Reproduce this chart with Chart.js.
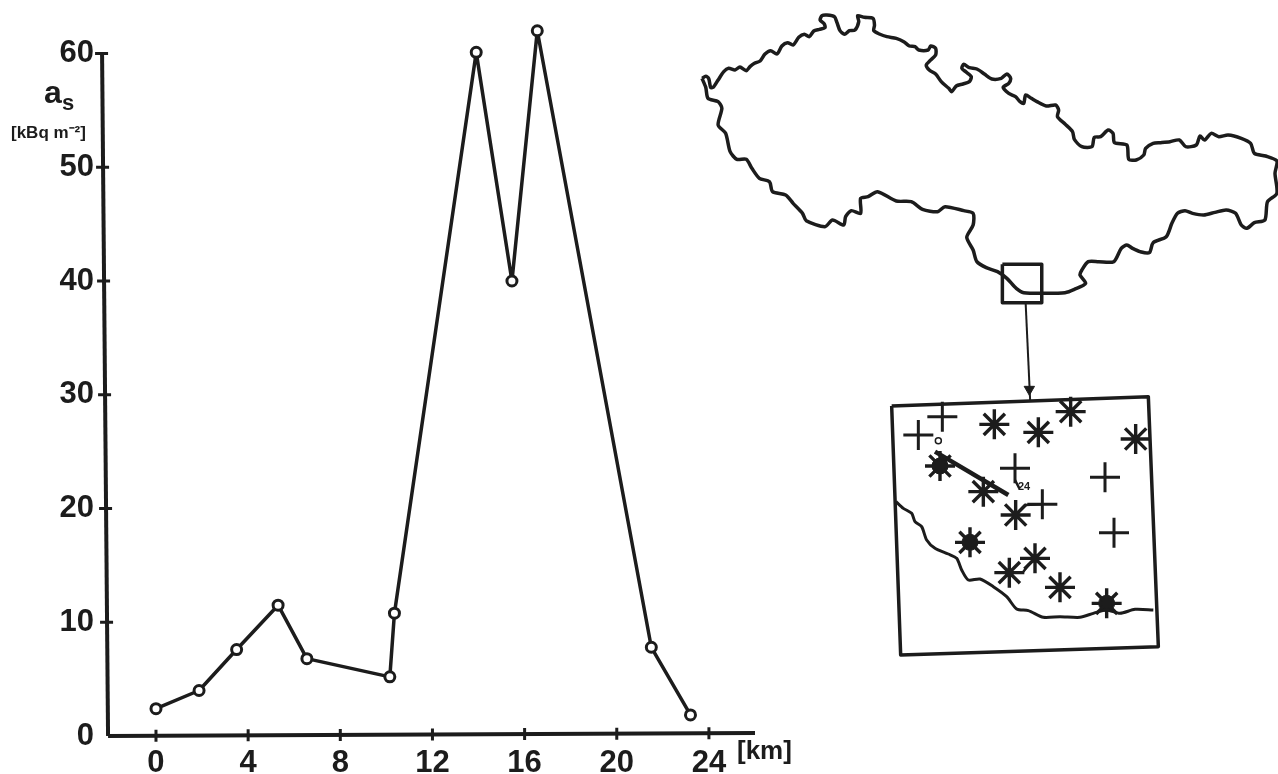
<!DOCTYPE html>
<html>
<head>
<meta charset="utf-8">
<title>Profile</title>
<script src="https://cdn.jsdelivr.net/npm/chart.js@4/dist/chart.umd.min.js"></script>
<style>
    html, body { margin: 0; padding: 0; background: #fff; overflow: hidden; }
    canvas { position: absolute; top: 0; }
    #profile { left: 0; }
    #mapa { left: 690px; }
</style>
</head>
<body>
<canvas id="profile" width="800" height="774"></canvas>
<canvas id="mapa" width="588" height="670"></canvas>
<script>
// profile: km along the line / activity
var distKm = [0, 1.87, 3.5, 5.3, 6.55, 10.15, 10.35, 13.9, 15.45, 16.55, 21.5, 23.2];
var actividad = [2.4, 4.0, 7.6, 11.5, 6.8, 5.2, 10.8, 60.1, 40, 62, 7.8, 1.85];
var xTicks = [0, 4, 8, 12, 16, 20, 24];
var yTicks = [0, 10, 20, 30, 40, 50, 60];
// hand drawn axes lean a little
var ejeY = [{ x: -2.34, y: 60 }, { x: -2.08, y: 0 }];
var ejeX = [{ x: -2.08, y: 0 }, { x: 26, y: 0.26 }];

// country outline, map units
var fronteraX = [32, 42, 50, 55, 62, 75, 90, 103, 120, 133, 150, 160, 172, 187, 200, 215, 232, 245, 260, 275, 290, 305, 318, 330, 345, 360, 358, 347, 352, 365, 385, 392, 400, 412, 425, 440, 450, 447, 465, 488, 492, 490, 505, 525, 550, 570, 585, 600, 610, 635, 642, 655, 655, 640, 630, 638, 655, 670, 690, 698, 710, 728, 745, 750, 735, 725, 730, 745, 765, 785, 805, 830, 845, 855, 850, 835, 850, 868, 880, 890, 895, 910, 925, 950, 975, 983, 980, 1000, 1020, 1025, 1045, 1072, 1078, 1095, 1115, 1128, 1132, 1165, 1170, 1190, 1210, 1215, 1235, 1255, 1280, 1305, 1322, 1350, 1360, 1372, 1390, 1410, 1435, 1470, 1495, 1505, 1535, 1565, 1560, 1565, 1540, 1533, 1505, 1485, 1470, 1455, 1430, 1400, 1370, 1340, 1320, 1300, 1285, 1270, 1235, 1225, 1200, 1180, 1165, 1150, 1130, 1090, 1062, 1045, 1040, 1055, 1025, 1000, 950, 890, 870, 845, 820, 790, 765, 755, 738, 755, 755, 730, 680, 660, 620, 590, 550, 500, 475, 455, 455, 430, 415, 410, 380, 360, 310, 300, 275, 255, 220, 212, 185, 165, 150, 125, 107, 95, 75, 85, 75, 48, 42, 32];
var fronteraY = [235, 229, 236, 262, 262, 240, 215, 205, 210, 201, 212, 200, 190, 183, 162, 152, 162, 138, 128, 135, 112, 103, 110, 93, 88, 83, 72, 60, 47, 45, 50, 68, 92, 103, 92, 90, 65, 47, 52, 55, 75, 92, 102, 110, 115, 125, 138, 140, 150, 150, 138, 145, 165, 182, 195, 210, 222, 245, 265, 275, 258, 252, 245, 230, 215, 205, 193, 203, 207, 222, 237, 235, 222, 235, 250, 262, 280, 290, 305, 310, 285, 295, 305, 318, 315, 330, 350, 372, 395, 418, 440, 440, 412, 410, 390, 400, 428, 435, 478, 480, 465, 445, 430, 428, 425, 420, 440, 435, 408, 420, 400, 410, 405, 415, 430, 460, 468, 483, 520, 580, 605, 660, 668, 685, 675, 640, 630, 637, 645, 640, 632, 640, 670, 710, 728, 758, 755, 745, 735, 745, 785, 785, 785, 810, 825, 850, 868, 878, 880, 878, 865, 835, 815, 803, 785, 750, 712, 675, 640, 632, 620, 635, 628, 605, 603, 575, 590, 595, 640, 632, 650, 675, 660, 680, 662, 640, 610, 585, 575, 545, 535, 505, 478, 478, 455, 400, 375, 325, 305, 295, 262, 235];
var cuadroX = [833, 938, 938, 833, 833];
var cuadroY = [793, 793, 908, 908, 793];
var flechaX = [895, 907];
var flechaY = [908, 1200];

// inset, its own units
var marcoX = [35, 805, 835, 62, 35];
var marcoY = [78, 50, 800, 825, 78];
var curvaX = [48, 70, 95, 105, 125, 140, 165, 205, 230, 245, 265, 300, 340, 380, 410, 445, 490, 540, 600, 640, 680, 720, 765, 820];
var curvaY = [365, 385, 400, 425, 440, 480, 505, 522, 535, 570, 600, 597, 620, 650, 687, 692, 712, 710, 712, 700, 690, 700, 688, 690];
var estrellasX = [343, 475, 572, 767, 180, 310, 407, 270, 465, 388, 540, 680];
var estrellasY = [133, 157, 95, 177, 258, 335, 405, 487, 535, 578, 622, 670];
var rellenoX = [180, 270, 680];
var rellenoY = [258, 487, 670];
var crucesX = [115, 187, 405, 675, 487, 702];
var crucesY = [165, 110, 265, 292, 373, 458];
var perfilX = [165, 385];
var perfilY = [215, 345];
var inicioX = [175];
var inicioY = [182];
// little pen strokes joining some symbols, null = gap
var enlacesX = [405, 418, null, 487, 435, 415, null, 430, 447];
var enlacesY = [300, 325, null, 373, 375, 395, null, 575, 553];

function puntos(xs, ys) {
    return xs.map(function (v, i) { return { x: v, y: ys[i] }; });
}

var negro = '#1c1c1c';
var fuente = 'Liberation Sans';

// ticks crossing the leaning axes + the loose texts
var marcas = {
    id: 'marcas',
    afterDraw: function (chart) {
        var c = chart.ctx, sx = chart.scales.x, sy = chart.scales.y;
        c.save();
        c.strokeStyle = negro;
        c.lineWidth = 3;
        c.beginPath();
        sx.ticks.forEach(function (t) {
            var px = sx.getPixelForValue(t.value);
            var py = sy.getPixelForValue(0.26 * (t.value + 2.08) / 28.08);
            c.moveTo(px, py - 6);
            c.lineTo(px, py + 6);
        });
        sy.ticks.forEach(function (t) {
            if (t.value === 0) return;
            var py = sy.getPixelForValue(t.value);
            var px = sx.getPixelForValue(-2.08 - 0.26 * t.value / 60);
            c.moveTo(px - 7, py);
            c.lineTo(px + 6, py);
        });
        c.stroke();

        c.fillStyle = negro;
        c.textBaseline = 'alphabetic';
        c.textAlign = 'left';
        c.font = 'bold 32px "' + fuente + '"';
        c.fillText('a', 44, 103);
        c.font = 'bold 22px "' + fuente + '"';
        c.fillText('s', 62, 110);
        c.font = 'bold 17px "' + fuente + '"';
        c.fillText('[kBq m\u207B\u00B2]', 11, 138);
        c.font = 'bold 26px "' + fuente + '"';
        c.fillText('[km]', 737, 759);
        c.restore();
    }
};

var chart1 = new Chart(document.getElementById('profile').getContext('2d'), {
    type: 'scatter',
    plugins: [marcas],
    data: {
        datasets: [
            { data: ejeY, showLine: true, borderColor: negro, borderWidth: 4, pointRadius: 0, clip: false },
            { data: ejeX, showLine: true, borderColor: negro, borderWidth: 4, pointRadius: 0, clip: false },
            {
                label: 'as',
                data: puntos(distKm, actividad),
                showLine: true,
                borderColor: negro,
                borderWidth: 3.5,
                borderJoinStyle: 'round',
                pointRadius: 5,
                pointBorderWidth: 3,
                pointBackgroundColor: '#fff',
                pointBorderColor: negro,
                clip: false
            }
        ]
    },
    options: {
        responsive: false,
        animation: false,
        layout: { autoPadding: false, padding: { top: 8, right: 45, left: 0, bottom: 0 } },
        plugins: { legend: { display: false }, tooltip: { enabled: false } },
        scales: {
            x: {
                type: 'linear',
                min: -2.43,
                max: 26,
                afterBuildTicks: function (s) { s.ticks = xTicks.map(function (v) { return { value: v }; }); },
                afterFit: function (s) { s.height = 38; s.paddingLeft = 0; s.paddingRight = 0; },
                grid: { display: false, drawTicks: false },
                border: { display: false },
                ticks: { color: negro, padding: 9, maxRotation: 0, autoSkip: false, font: { family: fuente, size: 31, weight: 'bold' } }
            },
            y: {
                type: 'linear',
                min: 0,
                max: 64,
                afterBuildTicks: function (s) { s.ticks = yTicks.map(function (v) { return { value: v }; }); },
                afterFit: function (s) { s.width = 100; s.paddingTop = 0; s.paddingBottom = 0; },
                grid: { display: false, drawTicks: false },
                border: { display: false },
                ticks: { color: negro, padding: 6, autoSkip: false, font: { family: fuente, size: 31, weight: 'bold' } }
            }
        }
    }
});

// small text next to the end of the line in the inset
var textoMapa = {
    id: 'textoMapa',
    afterDraw: function (chart) {
        var c = chart.ctx;
        var px = chart.scales.xi.getPixelForValue(432);
        var py = chart.scales.yi.getPixelForValue(322);
        c.save();
        c.fillStyle = negro;
        c.font = 'bold 11px "' + fuente + '"';
        c.textAlign = 'center';
        c.textBaseline = 'middle';
        c.fillText('24', px, py);
        c.restore();
    }
};

function linea(xs, ys, ancho, ejes, curva) {
    return {
        data: puntos(xs, ys),
        showLine: true,
        borderColor: negro,
        borderWidth: ancho,
        borderJoinStyle: 'round',
        tension: curva || 0,
        pointRadius: 0,
        xAxisID: ejes ? 'xi' : 'xc',
        yAxisID: ejes ? 'yi' : 'yc',
        clip: false
    };
}

function simbolos(xs, ys, estilo, radio, ancho) {
    return {
        data: puntos(xs, ys),
        showLine: false,
        pointStyle: estilo,
        pointRadius: radio,
        pointBorderWidth: ancho,
        pointBorderColor: negro,
        pointBackgroundColor: negro,
        xAxisID: 'xi',
        yAxisID: 'yi',
        clip: false
    };
}

var oculto = function (min, max) { return { type: 'linear', display: false, min: min, max: max }; };

var chart2 = new Chart(document.getElementById('mapa').getContext('2d'), {
    type: 'scatter',
    plugins: [textoMapa],
    data: {
        datasets: [
            linea(fronteraX, fronteraY, 3.5, false, 0.25),
            linea(cuadroX, cuadroY, 3.5, false),
            linea(flechaX, flechaY, 2, false),
            linea(marcoX, marcoY, 3.5, true),
            linea(curvaX, curvaY, 3, true, 0.25),
            linea(perfilX, perfilY, 4.5, true),
            linea(enlacesX, enlacesY, 2.5, true),
            simbolos(estrellasX, estrellasY, 'star', 15, 3.4),
            simbolos(rellenoX, rellenoY, 'circle', 8, 1),
            simbolos(crucesX, crucesY, 'cross', 15, 3),
            Object.assign(simbolos(inicioX, inicioY, 'circle', 3, 1.5), { pointBackgroundColor: '#fff' }),
            Object.assign(simbolos([448], [28], 'triangle', 6, 1), { pointRotation: 180 })
        ]
    },
    options: {
        responsive: false,
        animation: false,
        layout: { autoPadding: false, padding: 0 },
        plugins: { legend: { display: false }, tooltip: { enabled: false } },
        scales: {
            xc: oculto(0, 1568),
            yc: Object.assign(oculto(0, 2010), { reverse: true }),
            xi: oculto(-570, 1194),
            yi: Object.assign(oculto(-1140, 870), { reverse: true })
        }
    }
});
</script>
</body>
</html>
